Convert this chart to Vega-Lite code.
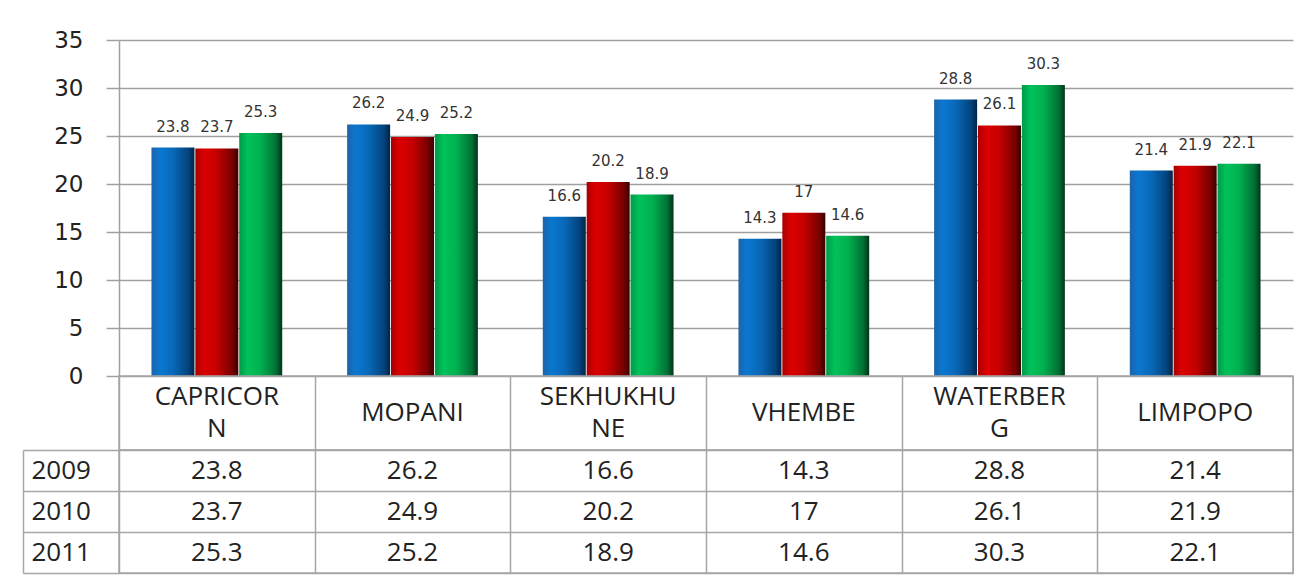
{
  "$schema": "https://vega.github.io/schema/vega-lite/v6.json",
  "padding": {"left": 21, "top": 29, "right": 0, "bottom": 0},
  "background": "white",
  "spacing": 0,
  "bounds": "flush",
  "config": {"view": {"stroke": null}},
  "datasets": {
    "vals": [
      {"region": "CAPRICORN", "year": "2009", "value": 23.8},
      {"region": "CAPRICORN", "year": "2010", "value": 23.7},
      {"region": "CAPRICORN", "year": "2011", "value": 25.3},
      {"region": "MOPANI", "year": "2009", "value": 26.2},
      {"region": "MOPANI", "year": "2010", "value": 24.9},
      {"region": "MOPANI", "year": "2011", "value": 25.2},
      {"region": "SEKHUKHUNE", "year": "2009", "value": 16.6},
      {"region": "SEKHUKHUNE", "year": "2010", "value": 20.2},
      {"region": "SEKHUKHUNE", "year": "2011", "value": 18.9},
      {"region": "VHEMBE", "year": "2009", "value": 14.3},
      {"region": "VHEMBE", "year": "2010", "value": 17},
      {"region": "VHEMBE", "year": "2011", "value": 14.6},
      {"region": "WATERBERG", "year": "2009", "value": 28.8},
      {"region": "WATERBERG", "year": "2010", "value": 26.1},
      {"region": "WATERBERG", "year": "2011", "value": 30.3},
      {"region": "LIMPOPO", "year": "2009", "value": 21.4},
      {"region": "LIMPOPO", "year": "2010", "value": 21.9},
      {"region": "LIMPOPO", "year": "2011", "value": 22.1}
    ],
    "regions": [
      {"region": "CAPRICORN", "line1": "CAPRICOR", "line2": "N"},
      {"region": "MOPANI", "line1": "MOPANI", "line2": ""},
      {"region": "SEKHUKHUNE", "line1": "SEKHUKHU", "line2": "NE"},
      {"region": "VHEMBE", "line1": "VHEMBE", "line2": ""},
      {"region": "WATERBERG", "line1": "WATERBER", "line2": "G"},
      {"region": "LIMPOPO", "line1": "LIMPOPO", "line2": ""}
    ]
  },
  "vconcat": [
    {
      "width": 1174,
      "height": 336,
      "data": {"name": "vals"},
      "encoding": {
        "x": {"field": "region", "type": "nominal", "sort": ["CAPRICORN", "MOPANI", "SEKHUKHUNE", "VHEMBE", "WATERBERG", "LIMPOPO"], "scale": {"paddingInner": 0, "paddingOuter": 0}, "axis": null},
        "xOffset": {"field": "year", "type": "nominal", "sort": ["2009", "2010", "2011"], "scale": {"paddingInner": 0.02, "paddingOuter": 0.74}},
        "y": {
          "field": "value", "type": "quantitative",
          "scale": {"domain": [0, 35], "nice": false},
          "axis": {
            "values": [0, 5, 10, 15, 20, 25, 30, 35], "title": null,
            "grid": true, "gridColor": "#a0a0a0", "gridWidth": 1.5,
            "tickSize": 13, "tickColor": "#a0a0a0", "tickWidth": 1.5,
            "domain": true, "domainColor": "#a0a0a0", "domainWidth": 1.5,
            "labelFont": "DejaVu Sans", "labelFontSize": 23, "labelColor": "#222", "labelPadding": 23
          }
        }
      },
      "layer": [
        {
          "transform": [{"filter": "datum.year === '2009'"}],
          "mark": {"type": "bar", "color": {"gradient": "linear", "x1": 0, "x2": 1, "y1": 0, "y2": 0, "stops": [
            {"offset": 0, "color": "#1d63a8"}, {"offset": 0.2, "color": "#0a78d0"}, {"offset": 0.5, "color": "#0868b8"}, {"offset": 0.85, "color": "#03447e"}, {"offset": 1, "color": "#012446"}]}}
        },
        {
          "transform": [{"filter": "datum.year === '2010'"}],
          "mark": {"type": "bar", "color": {"gradient": "linear", "x1": 0, "x2": 1, "y1": 0, "y2": 0, "stops": [
            {"offset": 0, "color": "#a80000"}, {"offset": 0.2, "color": "#dc0000"}, {"offset": 0.5, "color": "#c40000"}, {"offset": 0.85, "color": "#7a0000"}, {"offset": 1, "color": "#3a0000"}]}}
        },
        {
          "transform": [{"filter": "datum.year === '2011'"}],
          "mark": {"type": "bar", "color": {"gradient": "linear", "x1": 0, "x2": 1, "y1": 0, "y2": 0, "stops": [
            {"offset": 0, "color": "#009a48"}, {"offset": 0.2, "color": "#00c25a"}, {"offset": 0.5, "color": "#00b050"}, {"offset": 0.85, "color": "#007236"}, {"offset": 1, "color": "#003418"}]}}
        },
        {
          "mark": {"type": "text", "dy": -16, "baseline": "alphabetic", "font": "DejaVu Sans", "fontSize": 15, "color": "#333"},
          "encoding": {"text": {"field": "value", "type": "quantitative"}}
        }
      ]
    },
    {
      "width": 1174,
      "height": 74,
      "data": {"name": "regions"},
      "view": {"stroke": "#a6a6a6", "strokeWidth": 1.5},
      "encoding": {
        "x": {"field": "region", "type": "nominal", "sort": ["CAPRICORN", "MOPANI", "SEKHUKHUNE", "VHEMBE", "WATERBERG", "LIMPOPO"], "scale": {"paddingInner": 0, "paddingOuter": 0},
          "axis": {"orient": "top", "labels": false, "ticks": false, "domain": false, "grid": true, "tickBand": "extent", "gridColor": "#a6a6a6", "gridWidth": 1.5, "title": null}}
      },
      "layer": [
        {
          "transform": [{"filter": "datum.line2 === ''"}],
          "mark": {"type": "text", "font": "Open Sans", "fontSize": 26, "color": "#222", "baseline": "middle"},
          "encoding": {"text": {"field": "line1", "type": "nominal"}}
        },
        {
          "transform": [{"filter": "datum.line2 !== ''"}],
          "mark": {"type": "text", "font": "Open Sans", "fontSize": 26, "color": "#222", "baseline": "middle", "dy": -16},
          "encoding": {"text": {"field": "line1", "type": "nominal"}}
        },
        {
          "transform": [{"filter": "datum.line2 !== ''"}],
          "mark": {"type": "text", "font": "Open Sans", "fontSize": 26, "color": "#222", "baseline": "middle", "dy": 16},
          "encoding": {"text": {"field": "line2", "type": "nominal"}}
        }
      ]
    },
    {
      "width": 1174,
      "height": 123,
      "data": {"name": "vals"},
      "view": {"stroke": "#a6a6a6", "strokeWidth": 1.5},
      "mark": {"type": "text", "font": "Open Sans", "fontSize": 26, "color": "#222", "baseline": "middle"},
      "encoding": {
        "x": {"field": "region", "type": "nominal", "sort": ["CAPRICORN", "MOPANI", "SEKHUKHUNE", "VHEMBE", "WATERBERG", "LIMPOPO"], "scale": {"paddingInner": 0, "paddingOuter": 0},
          "axis": {"orient": "top", "labels": false, "ticks": false, "domain": false, "grid": true, "tickBand": "extent", "gridColor": "#a6a6a6", "gridWidth": 1.5, "title": null}},
        "y": {"field": "year", "type": "nominal", "sort": ["2009", "2010", "2011"], "scale": {"paddingInner": 0, "paddingOuter": 0},
          "axis": {"orient": "left", "offset": 96, "tickSize": -96, "tickBand": "extent", "tickColor": "#a6a6a6", "tickWidth": 1.5,
            "domain": true, "domainColor": "#a6a6a6", "domainWidth": 1.5,
            "grid": true, "gridColor": "#a6a6a6", "gridWidth": 1.5,
            "labelAlign": "left", "labelPadding": 88, "labelFont": "Open Sans", "labelFontSize": 26, "labelColor": "#222", "title": null}},
        "text": {"field": "value", "type": "quantitative"}
      }
    }
  ]
}
